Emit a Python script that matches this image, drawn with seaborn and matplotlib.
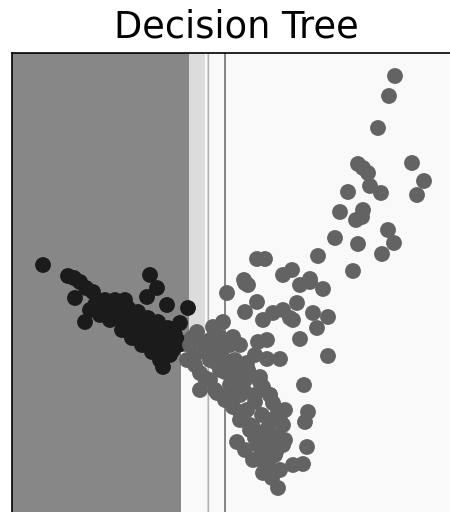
import numpy as np
import pandas as pd
import matplotlib
matplotlib.use("Agg")
import matplotlib.pyplot as plt
from matplotlib.colors import ListedColormap
import seaborn as sns

# Sample coordinates (feature units) for each class
class0_x = [31, 56, 62, 68, 74, 81, 63, 73, 138, 145, 135, 155, 176, 168, 161, 151,
            88, 96, 103, 108, 113, 118, 123, 128, 133, 138, 143, 148, 153, 106, 116,
            126, 136, 146, 156, 98, 110, 120, 130, 140, 150, 158, 163, 128, 138, 148,
            83, 93, 103, 113, 123, 78, 88, 206, 170, 148, 158, 166, 143, 153]
class0_y = [248, 237, 235, 231, 225, 221, 215, 191, 238, 225, 216, 208, 205, 190, 163, 146,
            208, 203, 198, 195, 191, 188, 183, 178, 175, 173, 168, 163, 158, 208, 205,
            201, 195, 191, 185, 193, 183, 175, 168, 161, 155, 173, 178, 188, 183, 178,
            208, 213, 213, 213, 195, 203, 198, 153, 170, 153, 158, 168, 163, 168]

class1_x = [383, 377, 366, 400, 346, 351, 356, 412, 358, 369, 336, 405, 328, 351, 344, 350,
            376, 323, 346, 382, 370, 306, 245, 253, 341, 280, 271, 232, 298,
            233, 236, 288, 298, 311, 215, 245, 233, 285, 301, 316, 305, 251, 261, 271,
            278, 281, 288, 246, 255, 268, 255, 316, 211, 201, 185, 221, 208,
            175, 183, 188, 188, 198, 205, 213, 221, 228, 225, 241, 251, 266, 255, 265,
            268, 261, 251, 248, 235, 221, 235, 241, 248, 255, 193, 203, 213, 223, 233,
            243, 218, 228, 238, 208, 198, 178, 258, 246, 253, 260, 238, 233, 258, 273,
            271, 263, 292, 296, 293, 295, 281, 291, 228, 243, 218,
            180, 193, 203, 213, 223, 233, 243, 250, 256, 260, 264, 256,
            198, 210, 223, 236, 248, 258, 266, 271, 273, 268,
            183, 193, 203, 216, 228, 238, 243, 250]
class1_y = [437, 417, 385, 350, 349, 345, 340, 332, 327, 320, 321, 318, 301, 303, 293, 296,
            283, 275, 269, 270, 259, 257, 254, 254, 242, 243, 238, 233, 234,
            230, 228, 228, 231, 224, 220, 211, 201, 210, 200, 196, 185, 193, 200, 203,
            195, 193, 174, 171, 173, 154, 154, 157, 191, 186, 181, 176, 176,
            153, 158, 140, 123, 133, 120, 113, 106, 93, 71, 53, 40, 25, 60, 76,
            93, 110, 126, 136, 150, 120, 103, 86, 80, 75, 168, 163, 153, 143, 133,
            118, 128, 118, 138, 143, 153, 168, 93, 68, 48, 35, 83, 63, 118, 103,
            68, 58, 128, 101, 91, 66, 48, 49, 168, 158, 168,
            175, 161, 151, 141, 131, 121, 111, 98, 85, 73, 61, 48,
            173, 163, 153, 143, 131, 118, 103, 88, 73, 43,
            148, 135, 123, 113, 101, 88, 75, 61]

# Fitted tree: split thresholds and the class held by each leaf
split_x_low = 169.0
split_x_high = 177.0
split_y = 161.0
strip_right = 193.0
thin_a = (195.2, 196.8)
thin_b = (212.5, 213.7)
region_colors = ["#878787", "#dcdcdc", "#f9f9f9"]
point_colors = ["#1b1b1b", "#636363"]

df = pd.DataFrame({
    "x": class0_x + class1_x,
    "y": class0_y + class1_y,
    "label": ["0"] * len(class0_x) + ["1"] * len(class1_x),
})

fig = plt.figure(figsize=(4.5, 5.12), dpi=100)
ax = fig.add_axes([12 / 450, -1 / 512, 448 / 450, 460 / 512])

# Decision surface on a fine grid
gx = np.arange(0, 448, 0.2) + 0.1
gy = np.arange(0, 460, 1.0) + 0.5
xx, yy = np.meshgrid(gx, gy)
Z = np.full(xx.shape, 2)
Z[(xx >= split_x_high) & (xx < strip_right) & (yy >= split_y)] = 1
Z[xx < split_x_low] = 0
Z[(xx < split_x_high) & (yy >= split_y)] = 0
Z[(xx >= thin_a[0]) & (xx < thin_a[1])] = 1
Z[(xx >= thin_b[0]) & (xx < thin_b[1])] = 0
ax.imshow(Z, extent=(0, 448, 0, 460), origin="lower", aspect="auto",
          cmap=ListedColormap(region_colors), vmin=-0.5, vmax=2.5,
          interpolation="nearest", zorder=0)
ax.axvline(np.mean(thin_a), color="#b4b4b4", linewidth=1.0, zorder=1)

sns.scatterplot(data=df, x="x", y="y", hue="label", palette=point_colors,
                s=130, linewidth=0, legend=False, ax=ax, zorder=2)

ax.set_xlim(0, 448)
ax.set_ylim(0, 460)
ax.set_xticks([])
ax.set_yticks([])
ax.set_xlabel("")
ax.set_ylabel("")
for sp in ax.spines.values():
    sp.set_color("black")
    sp.set_linewidth(1.2)
ax.set_title("Decision Tree", fontsize=26.5, pad=11.5, family="DejaVu Sans")

fig.savefig("out.png", dpi=100)
